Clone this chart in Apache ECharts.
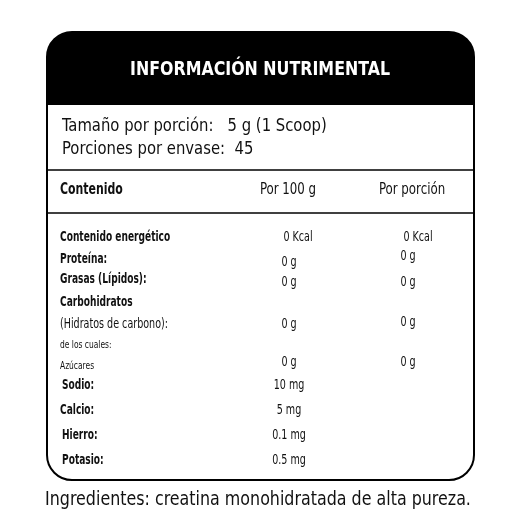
<!DOCTYPE html>
<html><head><meta charset="utf-8">
<script src="https://cdn.jsdelivr.net/npm/echarts@6/dist/echarts.min.js"></script>
<style>html,body{margin:0;padding:0;background:#fff}#c{width:531px;height:532px}</style>
</head><body><div id="c"></div>
<script>
const title = "INFORMACIÓN NUTRIMENTAL";
const servingLines = ["Tamaño por porción:   5 g (1 Scoop)", "Porciones por envase:  45"];
const headers = ["Contenido", "Por 100 g", "Por porción"];
const rowLabels = ["Contenido energético","Proteína:","Grasas (Lípidos):","Carbohidratos","(Hidratos de carbono):","de los cuales:","Azúcares","Sodio:","Calcio:","Hierro:","Potasio:"];
const per100 = ["0 Kcal","0 g","0 g","","0 g","","0 g","10 mg","5 mg","0.1 mg","0.5 mg"];
const perPortion = ["0 Kcal","0 g","0 g","","0 g","","0 g","","","",""];
const ingredients = "Ingredientes: creatina monohidratada de alta pureza.";

// layout
const rowY = [237,259,279,302,324,345,366,385,410,435,460];
const v100Y = [237,262,282,0,324,0,362,385,410,435,460];
const vPorY = [237,256,282,0,322,0,362,0,0,0,0];
const small = [false,false,false,false,false,true,true,false,false,false,false];
const bold = [true,true,true,true,false,false,false,true,true,true,true];
const F = '"DejaVu Sans Condensed",sans-serif';
const g = [];
const t = (x,y,s,size,w,align,fill,sx) => g.push({type:'text',x,y,scaleX:sx||1,style:{text:s,font:`${w} ${size}px ${F}`,fill:fill||'#111',align:align||'left',verticalAlign:'middle'}});
g.push({type:'rect',shape:{x:47,y:32,width:427,height:73,r:[25,25,0,0]},style:{fill:'#000'}});
g.push({type:'rect',shape:{x:47,y:32,width:427,height:448,r:25},style:{fill:null,stroke:'#000',lineWidth:2}});
g.push({type:'line',shape:{x1:47,y1:170,x2:474,y2:170},style:{stroke:'#000',lineWidth:1.5}});
g.push({type:'line',shape:{x1:47,y1:213,x2:474,y2:213},style:{stroke:'#000',lineWidth:1.5}});
t(260,70,title,20,'bold','center','#fff',0.88);
t(62,127,servingLines[0],17,'normal','left','#111',0.97);
t(62,150,servingLines[1],17,'normal','left','#111',0.97);
t(60,190,headers[0],16,'bold','left','#111',0.76);
t(288,190,headers[1],16,'normal','center','#111',0.82);
t(412,190,headers[2],16,'normal','center','#111',0.82);
rowLabels.forEach((l,i)=>{
  t(i>=7 && i!==8? 62:60,rowY[i],l,small[i]?11:14,bold[i]?'bold':'normal','left','#111',bold[i]?0.72:0.76);
  if(per100[i]) t(i===0?298:289,v100Y[i],per100[i],14,'normal','center','#111',0.76);
  if(perPortion[i]) t(i===0?418:408,vPorY[i],perPortion[i],14,'normal','center','#111',0.76);
});
t(258,500,ingredients,19,'normal','center','#111',0.93);
const chart = echarts.init(document.getElementById('c'));
chart.setOption({graphic:{elements:g}});
</script></body></html>
